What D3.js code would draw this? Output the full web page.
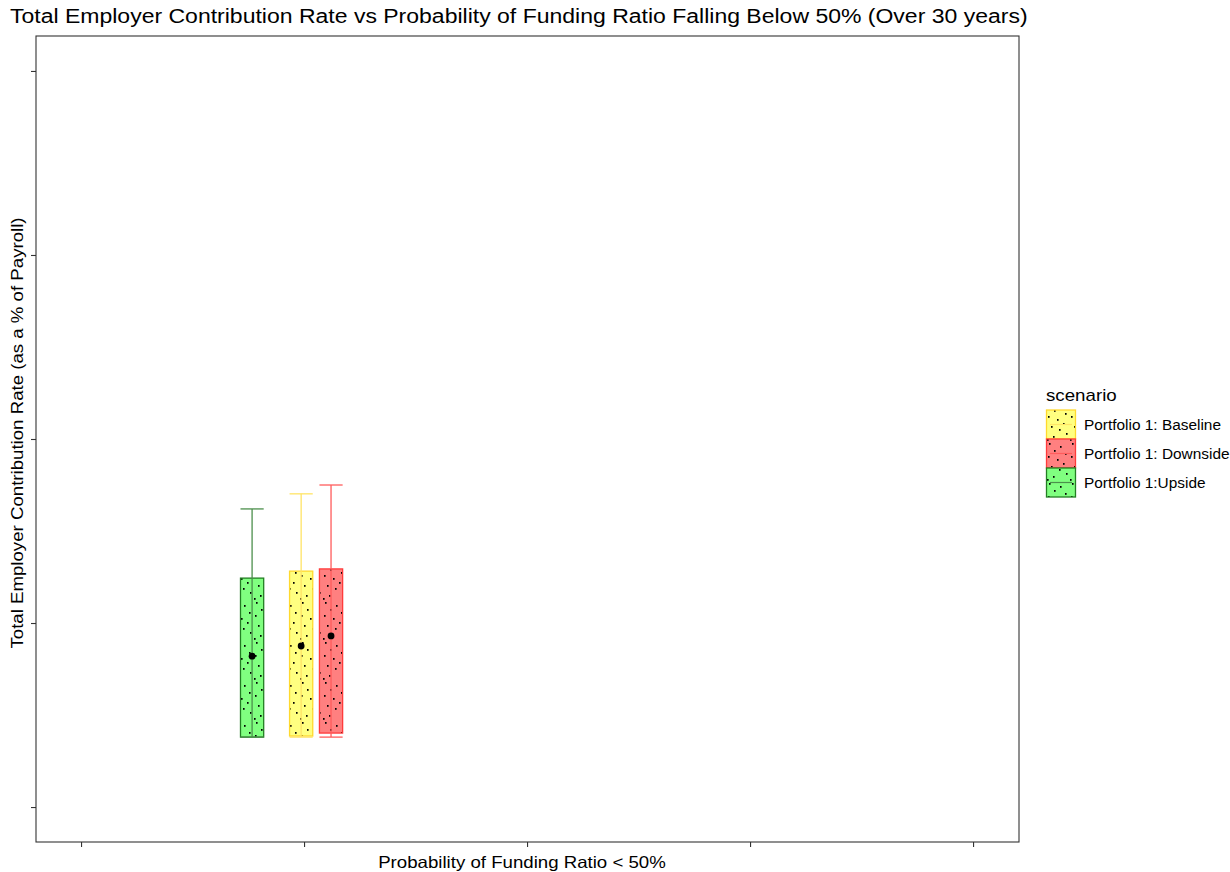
<!DOCTYPE html>
<html>
<head>
<meta charset="utf-8">
<script src="https://cdn.jsdelivr.net/npm/d3@7"></script>
<style>
  html, body { margin: 0; padding: 0; background: #fff; }
  svg { display: block; font-family: "Liberation Sans", Arial, sans-serif; }
</style>
</head>
<body>
<svg id="chart" width="1230" height="872"></svg>
<script>
// Scenario summaries: contribution rate (% of payroll) vs probability of FR < 50%
const scenarios = ["Portfolio 1: Baseline", "Portfolio 1: Downside", "Portfolio 1:Upside"];
const probBelow50 = [0.0987, 0.1121, 0.0767];   // x position of each box
const whiskerLow  = [11.90, 11.90, 11.90];
const boxLow      = [11.93, 12.01, 11.90];
const boxHigh     = [16.41, 16.47, 16.22];
const whiskerHigh = [18.51, 18.75, 18.10];
const meanRate    = [14.375, 14.65, 14.10];

const xTicks = [0.0, 0.1, 0.2, 0.3, 0.4];
const yTicks = [10, 15, 20, 25, 30];

const strokeColors = ["#FFD92E", "#FF3B3B", "#237F23"];
const fillColors   = ["#FFFF80", "#FF8080", "#80FF80"];
const whiskerColors = ["#FFE466", "#FF5C5C", "#4C8F4C"];

const svg = d3.select("#chart");
const panel = { left: 36, top: 36, right: 1019, bottom: 842 };

const x = d3.scaleLinear().domain([-0.0202, 0.4206]).range([panel.left, panel.right]);
const y = d3.scaleLinear().domain([9.05, 30.95]).range([panel.bottom, panel.top]);
const boxHalf = 0.0052;

// widen a text element horizontally by a factor
function stretch(sel, factor) {
  const w = sel.node().getComputedTextLength();
  sel.attr("textLength", w * factor).attr("lengthAdjust", "spacingAndGlyphs");
  return sel;
}

// dotted fill texture
const defs = svg.append("defs");
const dotSpots = [[3,2],[14,5],[8,9],[19,12],[2,15],[11,18],[17,22],[5,25],[13,28],[20,32],[7,35],[1,38]];
fillColors.forEach((c, i) => {
  const p = defs.append("pattern")
    .attr("id", "dots" + i).attr("patternUnits", "userSpaceOnUse")
    .attr("width", 23).attr("height", 40);
  p.append("rect").attr("width", 23).attr("height", 40).attr("fill", c);
  p.selectAll("rect.dot").data(dotSpots).join("rect").attr("class", "dot")
    .attr("x", d => d[0]).attr("y", d => d[1]).attr("width", 1.6).attr("height", 1.8).attr("fill", "#000");
});

// title
stretch(svg.append("text").attr("x", 10).attr("y", 23)
  .attr("font-size", 20).attr("fill", "#000")
  .text("Total Employer Contribution Rate vs Probability of Funding Ratio Falling Below 50% (Over 30 years)"), 1.15);

// axes (ticks only, no labels)
const xAxis = d3.axisBottom(x).tickValues(xTicks).tickSize(5).tickFormat("");
const yAxis = d3.axisLeft(y).tickValues(yTicks).tickSize(5).tickFormat("");
const gx = svg.append("g").attr("transform", `translate(0,${panel.bottom})`).call(xAxis);
const gy = svg.append("g").attr("transform", `translate(${panel.left},0)`).call(yAxis);
[gx, gy].forEach(g => {
  g.select(".domain").remove();
  g.selectAll(".tick line").attr("stroke", "#333").attr("stroke-width", 1.1);
});

// marks
const data = scenarios.map((s, i) => ({
  s, i, x: probBelow50[i], wl: whiskerLow[i], bl: boxLow[i], bh: boxHigh[i], wh: whiskerHigh[i], m: meanRate[i]
}));

const g = svg.append("g");
data.forEach(d => {
  const cx = x(d.x), x0 = x(d.x - boxHalf), x1 = x(d.x + boxHalf);
  // box
  g.append("rect")
    .attr("x", x0).attr("y", y(d.bh)).attr("width", x1 - x0).attr("height", y(d.bl) - y(d.bh))
    .attr("fill", `url(#dots${d.i})`).attr("stroke", strokeColors[d.i]).attr("stroke-width", 1.3);
  // whisker stem and caps
  g.append("line").attr("x1", cx).attr("x2", cx).attr("y1", y(d.wh)).attr("y2", y(d.wl))
    .attr("stroke", whiskerColors[d.i]).attr("stroke-width", 1.3);
  [d.wh, d.wl].forEach(v => {
    g.append("line").attr("x1", x0).attr("x2", x1).attr("y1", y(v)).attr("y2", y(v))
      .attr("stroke", whiskerColors[d.i]).attr("stroke-width", 1.3);
  });
  // mean point
  g.append("circle").attr("cx", cx).attr("cy", y(d.m)).attr("r", 3.4).attr("fill", "#000");
});

// panel border
svg.append("rect").attr("x", panel.left).attr("y", panel.top)
  .attr("width", panel.right - panel.left).attr("height", panel.bottom - panel.top)
  .attr("fill", "none").attr("stroke", "#333").attr("stroke-width", 1.1);

// axis titles
stretch(svg.append("text").attr("x", 522).attr("y", 868)
  .attr("text-anchor", "middle").attr("font-size", 16.5).attr("fill", "#000")
  .text("Probability of Funding Ratio < 50%"), 1.13);
stretch(svg.append("text").attr("transform", `translate(23,433) rotate(-90)`)
  .attr("text-anchor", "middle").attr("font-size", 16.5).attr("fill", "#000")
  .text("Total Employer Contribution Rate (as a % of Payroll)"), 1.13);

// legend
const lg = svg.append("g").attr("transform", "translate(1046,401)");
stretch(lg.append("text").attr("x", 0).attr("y", 0).attr("font-size", 17).attr("fill", "#000").text("scenario"), 1.1);
scenarios.forEach((s, i) => {
  const ky = 9 + i * 29;
  lg.append("rect").attr("x", 0.5).attr("y", ky).attr("width", 29).attr("height", 29)
    .attr("fill", `url(#dots${i})`).attr("stroke", strokeColors[i]).attr("stroke-width", 1.3);
  lg.append("line").attr("x1", 4).attr("x2", 26).attr("y1", ky + 14.5).attr("y2", ky + 14.5)
    .attr("stroke", whiskerColors[i]).attr("stroke-width", 1.2);
  stretch(lg.append("text").attr("x", 38).attr("y", ky + 19.5).attr("font-size", 14).attr("fill", "#000").text(s), 1.1);
});
</script>
</body>
</html>
